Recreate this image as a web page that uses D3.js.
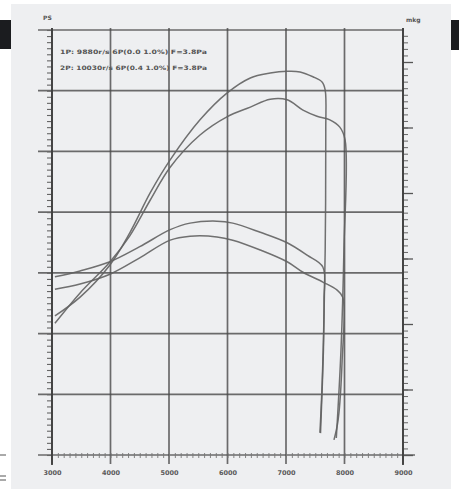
<!DOCTYPE html>
<html><head><meta charset="utf-8">
<script src="https://cdn.jsdelivr.net/npm/d3@7"></script>
<style>html,body{margin:0;padding:0;background:#fff;}svg{display:block;}</style>
</head><body>
<svg id="c" width="459" height="489"></svg>
<script>
// ---- data ----
const rpmTicks = [3000, 4000, 5000, 6000, 7000, 8000, 9000];
const rpmLabels = ["3000", "4000", "5000", "6000", "7000", "8000", "9000"];
const psTicks = [0, 10, 20, 30, 40, 50, 60, 70];
const mkgTicks = [0, 1, 2, 3, 4, 5, 6];
const legendLines = ["1P: 9880r/s 6P(0.0 1.0%) F=3.8Pa", "2P: 10030r/s 6P(0.4 1.0%) F=3.8Pa"];

const powerA_rpm = [3050,3480,3990,4330,4680,5020,5530,5990,6390,6730,7020,7240,7460,7620,7670,7680,7670,7640,7590];
const powerA_ps  = [22.9,26.0,31.3,36.6,43.2,48.6,55.2,59.6,62.1,62.9,63.2,63.1,62.3,61.4,60.1,53.5,33.8,17.3,3.6];
const powerB_rpm = [3050,3480,3990,4330,4680,5020,5530,5990,6390,6730,7020,7290,7530,7750,7920,8010,7990,7940,7860];
const powerB_ps  = [21.7,26.7,31.8,36.1,42.0,47.4,52.7,55.7,57.3,58.6,58.5,56.8,55.8,55.2,54.0,51.9,33.8,17.3,2.8];
const torqueA_rpm = [3050,3480,3990,4500,5020,5360,5820,6090,6560,7020,7360,7630,7650,7620,7580];
const torqueA_mkg = [2.72,2.81,2.95,3.18,3.44,3.54,3.57,3.54,3.40,3.24,3.05,2.87,2.37,1.15,0.34];
const torqueB_rpm = [3050,3480,3990,4500,5020,5360,5820,6090,6560,7020,7290,7630,7870,7970,7960,7890,7820];
const torqueB_mkg = [2.53,2.61,2.76,3.01,3.28,3.34,3.33,3.28,3.13,2.95,2.79,2.64,2.52,2.41,1.45,0.53,0.23];

// ---- drawing ----
const svg = d3.select("#c");
svg.append("rect").attr("x",11).attr("y",4).attr("width",440).attr("height",485).attr("fill","#eeeff1");
svg.append("rect").attr("x",0).attr("y",20).attr("width",11).attr("height",29).attr("fill","#1b1c1f");
svg.append("rect").attr("x",451).attr("y",20).attr("width",8).attr("height",30).attr("fill","#1b1c1f");
svg.append("line").attr("x1",0).attr("x2",6).attr("y1",455).attr("y2",455).attr("stroke","#555").attr("stroke-width",1);
svg.append("line").attr("x1",0).attr("x2",6).attr("y1",476).attr("y2",476).attr("stroke","#555").attr("stroke-width",1);
svg.append("line").attr("x1",0).attr("x2",6).attr("y1",480).attr("y2",480).attr("stroke","#555").attr("stroke-width",1);

const x = d3.scaleLinear().domain([3000, 9000]).range([52, 403]);
const yL = d3.scaleLinear().domain([0, 70]).range([455, 30]);
const yR = d3.scaleLinear().domain([0, 425/65.5]).range([455, 30]);

const gridCol = "#4a4a4a";
const g = svg.append("g");

// horizontal grid
g.selectAll(".hg").data(psTicks).join("line")
  .attr("x1", 38).attr("x2", d => d === 0 ? 415 : 404)
  .attr("y1", d => yL(d)).attr("y2", d => yL(d))
  .attr("stroke", gridCol).attr("stroke-width", 1.7).attr("opacity",0.8);
// vertical grid
g.selectAll(".vg").data(rpmTicks).join("line")
  .attr("x1", d => x(d)).attr("x2", d => x(d))
  .attr("y1", 28).attr("y2", 464)
  .attr("stroke", gridCol).attr("stroke-width", 1.7).attr("opacity",0.8);

// left minor ticks
const leftMinor = d3.axisLeft(yL).tickValues(d3.range(0, 70.01, 1)).tickSize(5).tickFormat("");
g.append("g").attr("transform","translate(52,0)").call(leftMinor)
  .call(s => s.select(".domain").remove())
  .selectAll("line").attr("stroke","#666").attr("stroke-width",1.1);
// right minor + major ticks
const rightMinor = d3.axisRight(yR).tickValues(d3.range(0, 6.45, 0.1)).tickSize(5).tickFormat("");
g.append("g").attr("transform","translate(403,0)").call(rightMinor)
  .call(s => s.select(".domain").remove())
  .selectAll("line").attr("stroke","#666").attr("stroke-width",1.0);
const rightMajor = d3.axisRight(yR).tickValues(mkgTicks).tickSize(10).tickFormat("");
g.append("g").attr("transform","translate(403,0)").call(rightMajor)
  .call(s => s.select(".domain").remove())
  .selectAll("line").attr("stroke","#555").attr("stroke-width",1.3);
// bottom minor ticks
const bottomMinor = d3.axisBottom(x).tickValues(d3.range(3000, 9001, 100)).tickSize(5).tickFormat("");
g.append("g").attr("transform","translate(0,453)").call(bottomMinor)
  .call(s => s.select(".domain").remove())
  .selectAll("line").attr("stroke","#777").attr("stroke-width",0.9);
// bottom labels
const bottomLab = d3.axisBottom(x).tickValues(rpmTicks).tickSize(0).tickPadding(0)
  .tickFormat((d,i) => rpmLabels[i]);
g.append("g").attr("transform","translate(0,475)").call(bottomLab)
  .call(s => s.select(".domain").remove())
  .selectAll("text").attr("font-family","DejaVu Sans").attr("font-weight","bold")
  .attr("font-size", 6.5).attr("fill","#5a5a5a").attr("dy","0");

// axis lines
g.append("line").attr("x1",52).attr("x2",52).attr("y1",28).attr("y2",465).attr("stroke","#3f3f3f").attr("stroke-width",1.8);
g.append("line").attr("x1",403).attr("x2",403).attr("y1",28).attr("y2",465).attr("stroke","#3f3f3f").attr("stroke-width",1.8);

// unit labels
svg.append("text").attr("x",43).attr("y",20).text("PS")
  .attr("font-family","DejaVu Sans").attr("font-weight","bold").attr("font-size",6).attr("fill","#555");
svg.append("text").attr("x",406).attr("y",22).text("mkg")
  .attr("font-family","DejaVu Sans").attr("font-weight","bold").attr("font-size",6).attr("fill","#555");

// legend text
svg.selectAll(".leg").data(legendLines).join("text")
  .attr("x", 60).attr("y", (d,i) => 54 + i*16)
  .attr("textLength", 147).attr("lengthAdjust","spacingAndGlyphs")
  .attr("font-family","DejaVu Sans").attr("font-weight","bold").attr("font-size",6).attr("fill","#555")
  .text(d => d);

// curves
const curveCol = "#626262";
function drawLine(rpms, vals, yScale) {
  const pts = rpms.map((r,i) => [x(r), yScale(vals[i])]);
  svg.append("path").attr("d", d3.line().curve(d3.curveCatmullRom.alpha(0.5))(pts))
    .attr("fill","none").attr("stroke",curveCol).attr("stroke-width",1.5).attr("opacity",0.9);
}
drawLine(powerA_rpm, powerA_ps, yL);
drawLine(powerB_rpm, powerB_ps, yL);
drawLine(torqueA_rpm, torqueA_mkg, yR);
drawLine(torqueB_rpm, torqueB_mkg, yR);
</script>
</body></html>
